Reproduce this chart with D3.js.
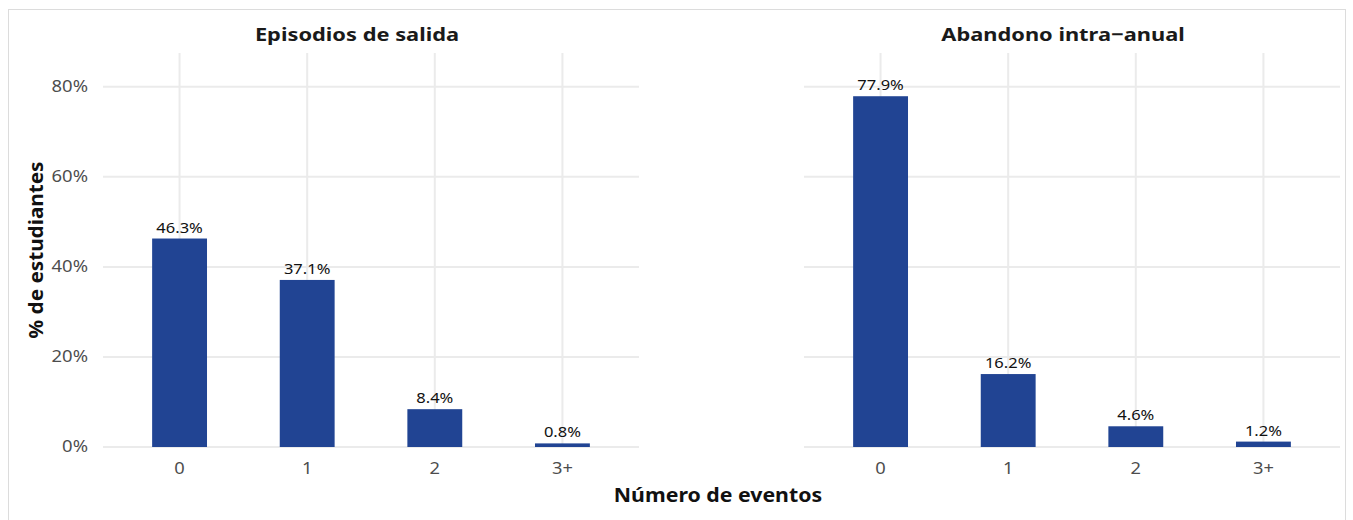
<!DOCTYPE html>
<html>
<head>
<meta charset="utf-8">
<script src="https://cdn.jsdelivr.net/npm/d3@7"></script>
<style>
  body { margin: 0; background: #fff; }
  svg text { font-family: "Noto Sans", "Open Sans", sans-serif; }
</style>
</head>
<body>
<div class="container"></div>
<script>
// chart data
var categories = ["0", "1", "2", "3+"];
var panelTitles = ["Episodios de salida", "Abandono intra\u2212anual"];
var salidaValues = [46.3, 37.1, 8.4, 0.8];
var abandonoValues = [77.9, 16.2, 4.6, 1.2];
var yTicks = [0, 20, 40, 60, 80];

var w = 1353;
var h = 520;

// the reference font runs wider than Noto Sans, so stretch text a bit
function stretch(sel, k) {
  sel.each(function() {
    var len = this.getComputedTextLength();
    d3.select(this)
      .attr("textLength", len * k)
      .attr("lengthAdjust", "spacingAndGlyphs");
  });
}

var svg = d3.select(".container")
    .append("svg")
    .attr("width", w)
    .attr("height", h);

// outer frame
svg.append("rect")
    .attr("x", 8.5)
    .attr("y", 9.5)
    .attr("width", 1337)
    .attr("height", 530)
    .attr("fill", "none")
    .attr("stroke", "#dcdcdc")
    .attr("stroke-width", 1);

var y = d3.scaleLinear()
    .domain([0, 87.5])
    .range([447, 53]);

var panels = [
  { title: panelTitles[0], values: salidaValues, left: 103, right: 639, titleX: 357 },
  { title: panelTitles[1], values: abandonoValues, left: 804, right: 1340, titleX: 1063 }
];

panels.forEach(function(p, pi) {
  var x = d3.scalePoint()
      .domain(categories)
      .range([p.left, p.right])
      .padding(0.6);
  var barW = x.step() * 0.43;

  var g = svg.append("g").attr("class", "panel");

  // grid
  g.selectAll(".hgrid")
      .data(yTicks)
      .enter().append("line")
      .attr("x1", p.left).attr("x2", p.right)
      .attr("y1", function(d) { return y(d); })
      .attr("y2", function(d) { return y(d); })
      .attr("stroke", "#ebebeb")
      .attr("stroke-width", 2);

  g.selectAll(".vgrid")
      .data(categories)
      .enter().append("line")
      .attr("x1", function(d) { return x(d); })
      .attr("x2", function(d) { return x(d); })
      .attr("y1", y.range()[1]).attr("y2", y.range()[0])
      .attr("stroke", "#ebebeb")
      .attr("stroke-width", 2);

  // bars
  g.selectAll(".bar")
      .data(p.values)
      .enter().append("rect")
      .attr("class", "bar")
      .attr("x", function(d, i) { return x(categories[i]) - barW / 2; })
      .attr("width", barW)
      .attr("y", function(d) { return y(d); })
      .attr("height", function(d) { return y(0) - y(d); })
      .attr("fill", "#214493");

  g.selectAll(".lbl")
      .data(p.values)
      .enter().append("text")
      .attr("x", function(d, i) { return x(categories[i]); })
      .attr("y", function(d) { return y(d) - 6; })
      .attr("text-anchor", "middle")
      .attr("font-size", "14px")
      .attr("fill", "#111")
      .text(function(d) { return d.toFixed(1) + "%"; })
      .call(stretch, 1.18);

  // x tick labels
  g.selectAll(".xt")
      .data(categories)
      .enter().append("text")
      .attr("x", function(d) { return x(d); })
      .attr("y", 474)
      .attr("text-anchor", "middle")
      .attr("font-size", "15.5px")
      .attr("fill", "#4d4d4d")
      .text(function(d) { return d; })
      .call(stretch, 1.18);

  // facet title
  g.append("text")
      .attr("x", p.titleX)
      .attr("y", 41)
      .attr("text-anchor", "middle")
      .attr("font-size", "18.5px")
      .attr("font-weight", "bold")
      .attr("fill", "#1a1a1a")
      .text(p.title)
      .call(stretch, 1.18);

  // y tick labels only on the first panel
  if (pi === 0) {
    g.selectAll(".yt")
        .data(yTicks)
        .enter().append("text")
        .attr("x", 88)
        .attr("y", function(d) { return y(d); })
        .attr("dy", "0.35em")
        .attr("text-anchor", "end")
        .attr("font-size", "15.5px")
        .attr("fill", "#4d4d4d")
        .text(function(d) { return d + "%"; })
        .call(stretch, 1.19);
  }
});

// axis titles
svg.append("text")
    .attr("transform", "translate(43," + ((y.range()[0] + y.range()[1]) / 2) + ") rotate(-90)")
    .attr("text-anchor", "middle")
    .attr("font-size", "19px")
    .attr("font-weight", "bold")
    .attr("fill", "#111")
    .text("% de estudiantes")
    .call(stretch, 1.09);

svg.append("text")
    .attr("x", 718)
    .attr("y", 502)
    .attr("text-anchor", "middle")
    .attr("font-size", "19px")
    .attr("font-weight", "bold")
    .attr("fill", "#111")
    .text("Número de eventos")
    .call(stretch, 1.12);
</script>
</body>
</html>
